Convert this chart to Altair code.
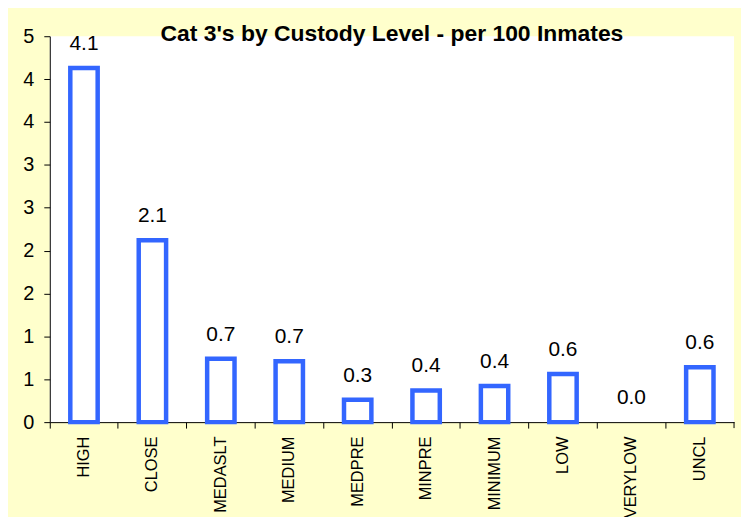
import altair as alt
import pandas as pd

categories = ["HIGH", "CLOSE", "MEDASLT", "MEDIUM", "MEDPRE", "MINPRE", "MINIMUM", "LOW", "VERYLOW", "UNCL"]
values = [4.13, 2.12, 0.74, 0.71, 0.26, 0.37, 0.42, 0.56, 0.0, 0.64]
value_labels = ["4.1", "2.1", "0.7", "0.7", "0.3", "0.4", "0.4", "0.6", "0.0", "0.6"]
y_ticks = [0, 0.5, 1, 1.5, 2, 2.5, 3, 3.5, 4, 4.5]
title_text = "Cat 3's by Custody Level - per 100 Inmates"

df = pd.DataFrame({"cat": categories, "val": values, "lab": value_labels})

FONT = "Liberation Sans"
W, H = 688, 388

x_enc = alt.X(
    "cat:N",
    sort=categories,
    scale=alt.Scale(paddingInner=0, paddingOuter=0),
    axis=alt.Axis(
        title=None, labelAngle=-90, bandPosition=0, labelOffset=0,
        labelFont=FONT, labelFontSize=16.5, labelColor="black",
        domainColor="black", tickColor="black", tickSize=6, labelPadding=8,
    ),
)
y_enc = alt.Y(
    "val:Q",
    scale=alt.Scale(domain=[0, 4.5], nice=False),
    axis=alt.Axis(
        title=None, values=y_ticks, format=".0f", grid=False,
        labelFont=FONT, labelFontSize=20, labelColor="black",
        domainColor="black", tickColor="black", tickSize=6, labelPadding=10,
    ),
)

base = alt.Chart(df)

bars = base.mark_bar(
    width=alt.RelativeBandSize(0.4), fill="white", stroke="#3366FF", strokeWidth=4.5
).encode(x=x_enc, y=y_enc).transform_filter("datum.val > 0")

texts = base.mark_text(
    dy=-18, baseline="alphabetic", fontSize=21, font=FONT, color="black"
).encode(x=alt.X("cat:N", sort=categories), y="val:Q", text="lab:N")

end_tick = alt.Chart(pd.DataFrame({"a": [0]})).mark_rule(color="black").encode(
    x=alt.value(W), y=alt.value(H), y2=alt.value(H + 6)
)

chart = alt.layer(bars, texts, end_tick).properties(
    width=W, height=H,
    title=alt.TitleParams(
        title_text, font=FONT, fontSize=23, fontWeight="bold", color="black",
        anchor="middle", baseline="alphabetic", offset=-10, dy=28,
    ),
    autosize=alt.AutoSizeParams(type="none"),
    padding={"left": 42, "top": 27, "right": 7, "bottom": 94},
    background="#FFFFCC",
).configure_view(fill="white", stroke=None)

chart.save("out.html", embed_options={"renderer": "svg", "actions": False})
